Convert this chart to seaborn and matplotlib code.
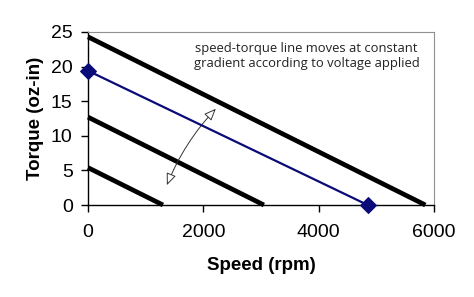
import matplotlib
matplotlib.use("Agg")
import matplotlib.pyplot as plt
import seaborn as sns
import pandas as pd

# Data
series_names = ["V4", "V3", "V2", "V1"]
stall_torque = [24.3, 19.4, 12.7, 5.4]      # oz-in at 0 rpm
no_load_speed = [5850, 4850, 3050, 1300]    # rpm at 0 torque
x_ticks = [0, 2000, 4000, 6000]
y_ticks = [0, 5, 10, 15, 20, 25]
note = "speed-torque line moves at constant\ngradient according to voltage applied"

sns.set_theme(style="white")
plt.rcParams["font.family"] = ["Liberation Sans", "DejaVu Sans"]
plt.rcParams["text.color"] = "black"
plt.rcParams["axes.labelcolor"] = "black"
plt.rcParams["xtick.color"] = "black"
plt.rcParams["ytick.color"] = "black"

rows = []
for n, t, s in zip(series_names, stall_torque, no_load_speed):
    rows.append({"series": n, "speed": 0, "torque": t})
    rows.append({"series": n, "speed": s, "torque": 0})
df = pd.DataFrame(rows)

fig = plt.figure(figsize=(4.74, 2.97), dpi=100)
ax = fig.add_axes([88/474, 1-205/297, (434-88)/474, (205-32)/297])

black = df[df.series != "V3"]
sns.lineplot(data=black, x="speed", y="torque", units="series", estimator=None,
             color="black", lw=3.4, ax=ax, legend=False, solid_capstyle="butt")
blue = df[df.series == "V3"]
sns.lineplot(data=blue, x="speed", y="torque", color="#0a0a78", lw=1.6,
             marker="D", markersize=8, markeredgecolor="#0a0a78", ax=ax,
             legend=False, clip_on=False, zorder=5)
for line in ax.lines:
    line.set_clip_on(False)

ax.set_xlim(0, 6000)
ax.set_ylim(0, 25)
ax.set_xticks(x_ticks)
ax.set_yticks(y_ticks)
ax.tick_params(axis="x", direction="out", length=5, width=1, pad=9, labelsize=14, bottom=True)
ax.tick_params(axis="y", direction="out", length=5, width=1, pad=6, labelsize=14, left=True)
ax.set_xlabel("Speed (rpm)", fontsize=13.5, fontweight="bold", labelpad=11)
ax.set_ylabel("Torque (oz-in)", fontsize=13.5, fontweight="bold", labelpad=5)
for s in ["left", "bottom"]:
    ax.spines[s].set_color("black")
    ax.spines[s].set_linewidth(1)
for s in ["top", "right"]:
    ax.spines[s].set_color("#909090")
    ax.spines[s].set_linewidth(0.8)

ax.text(3790, 21.5, note, ha="center", va="center", fontsize=9.4,
        family=["Open Sans", "DejaVu Sans"], color="#222222", linespacing=1.2)

ax.annotate("", xy=(2250, 14.2), xytext=(1350, 2.5),
            arrowprops=dict(arrowstyle="<|-|>,head_length=0.6,head_width=0.25",
                            color="#333333", lw=0.7, fc="white",
                            connectionstyle="arc3,rad=-0.1"))

fig.savefig("out.png", dpi=100)
